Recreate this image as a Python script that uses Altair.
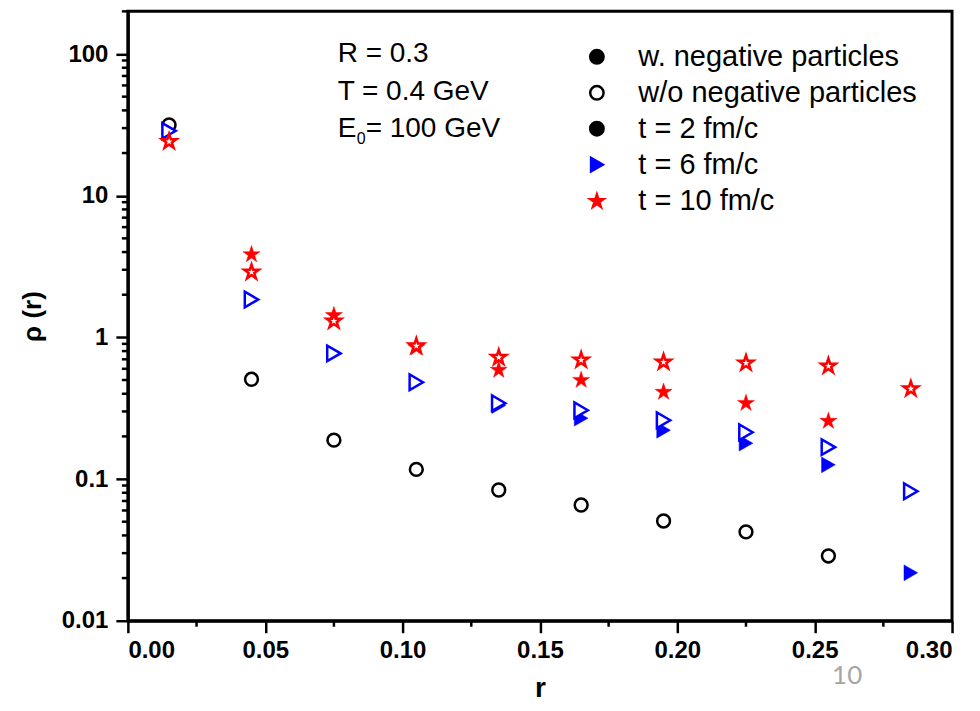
import altair as alt
import pandas as pd

# ---------------- data ----------------
r_vals = [0.015, 0.045, 0.075, 0.105, 0.135, 0.165, 0.195, 0.225, 0.255, 0.285]

t2_without = [31.6, 0.506, 0.188, 0.117, 0.0837, 0.0656, 0.0506, 0.0424, 0.0287, None]
t2_with = [31.6, 0.506, 0.188, 0.117, 0.0837, 0.0656, 0.0506, 0.0424, 0.0282, None]
t6_without = [28.7, 1.85, 0.77, 0.482, 0.343, 0.306, 0.260, 0.214, 0.168, 0.082]
t6_with = [28.7, 1.85, 0.77, 0.482, 0.330, 0.269, 0.221, 0.179, 0.126, 0.0218]
t10_without = [24.4, 2.92, 1.32, 0.88, 0.73, 0.70, 0.678, 0.667, 0.635, 0.438]
t10_with = [24.4, 3.90, 1.45, 0.86, 0.596, 0.506, 0.417, 0.348, 0.260, None]

x_ticks = [0.0, 0.05, 0.10, 0.15, 0.20, 0.25, 0.30]
x_minor = [0.025, 0.075, 0.125, 0.175, 0.225, 0.275]
y_ticks = [0.01, 0.1, 1, 10, 100]
y_minor = [m * d for d in [0.01, 0.1, 1, 10] for m in range(2, 10)] + [200]

legend_labels = ["w. negative particles", "w/o negative particles",
                 "t = 2 fm/c", "t = 6 fm/c", "t = 10 fm/c"]

annot_lines = ["R = 0.3", "T = 0.4 GeV"]

STAR = ("M0,-0.905L0.225,-0.213L0.951,-0.213L0.363,0.214L0.588,0.905"
        "L0,0.478L-0.588,0.905L-0.363,0.214L-0.951,-0.213L-0.225,-0.213Z")

FONT = "Liberation Sans"
W, H = 825, 610

xscale = alt.Scale(domain=[0, 0.3], nice=False, zero=False)
yscale = alt.Scale(type="log", domain=[0.01, 200], nice=False)

X = alt.X("r:Q", scale=xscale,
          axis=alt.Axis(values=x_ticks, format=".2f", title="r",
                        labelFont=FONT, labelFontSize=24, labelFontWeight="bold",
                        labelPadding=6, titleFont=FONT, titleFontSize=28,
                        titleFontWeight="bold", titlePadding=12))
Y = alt.Y("rho:Q", scale=yscale,
          axis=alt.Axis(values=y_ticks, format=".2~f", title="ρ (r)",
                        labelFont=FONT, labelFontSize=24, labelFontWeight="bold",
                        labelPadding=8, titleFont=FONT, titleFontSize=26,
                        titleFontWeight="bold", titlePadding=16))


def series_df(vals):
    return pd.DataFrame({"r": r_vals, "rho": vals}).dropna()


def filled_layer(vals, shape, color, size):
    return alt.Chart(series_df(vals)).mark_point(
        shape=shape, filled=True, fill=color, stroke=color, strokeWidth=0.5,
        size=size, opacity=1).encode(x=X, y=Y)


def open_layer(vals, shape, color, size):
    return alt.Chart(series_df(vals)).mark_point(
        shape=shape, filled=True, fill="white", stroke=color, strokeWidth=2.5,
        size=size, opacity=1).encode(x=X, y=Y)


# minor ticks
ymin_df = pd.DataFrame({"rho": y_minor})
ymin = alt.Chart(ymin_df).mark_rule(color="black", strokeWidth=2.5).encode(
    y=Y, x=alt.value(0), x2=alt.value(-6))
xmin_df = pd.DataFrame({"r": x_minor})
xmin = alt.Chart(xmin_df).mark_rule(color="black", strokeWidth=2.5).encode(
    x=X, y=alt.value(H), y2=alt.value(H + 6))

# legend (symbols only come from scales; no marks drawn)
leg_df = pd.DataFrame({"entry": legend_labels, "r": [None] * 5, "rho": [None] * 5})
leg = alt.Legend(orient="none", legendX=455, legendY=31, title=None,
                 labelFont=FONT, labelFontSize=29, labelColor="black",
                 symbolSize=180, symbolStrokeWidth=2.5, rowPadding=6,
                 labelOffset=27, padding=0, labelLimit=600)
legend_layer = alt.Chart(leg_df).mark_point(filled=True, strokeWidth=2.5, opacity=1).encode(
    x=X, y=Y,
    shape=alt.Shape("entry:N", scale=alt.Scale(domain=legend_labels,
                    range=["circle", "circle", "circle", "triangle-right", STAR]), legend=leg),
    stroke=alt.Stroke("entry:N", scale=alt.Scale(domain=legend_labels,
                      range=["black", "black", "black", "blue", "red"]), legend=leg),
    fill=alt.Fill("entry:N", scale=alt.Scale(domain=legend_labels,
                  range=["black", "white", "black", "blue", "red"]), legend=leg),
)

one = pd.DataFrame({"a": [0]})


def text_layer(txt, x, y, size=28, color="black", font=FONT, align="left"):
    return alt.Chart(one).mark_text(text=txt, font=font, fontSize=size, color=color,
                                    align=align, baseline="middle").encode(
        x=alt.value(x), y=alt.value(y))


annots = [
    text_layer(annot_lines[0], 210, 43),
    text_layer(annot_lines[1], 210, 81),
    text_layer("E", 210, 118),
    text_layer("0", 229, 128, size=16),
    text_layer("= 100 GeV", 238, 118),
    text_layer("10", 720, 665, size=26, color="#a6a6a6", font="Lato", align="center"),
]

chart = alt.layer(
    ymin, xmin,
    filled_layer(t2_with, "circle", "black", 165),
    filled_layer(t6_with, "triangle-right", "blue", 250),
    filled_layer(t10_with, STAR, "red", 320),
    open_layer(t2_without, "circle", "black", 165),
    open_layer(t6_without, "triangle-right", "blue", 240),
    open_layer(t10_without, STAR, "red", 235),
    legend_layer,
    *annots,
).properties(
    width=W, height=H,
    autosize=alt.AutoSizeParams(type="none"),
    padding={"left": 120, "top": 3, "right": 20, "bottom": 85},
).configure_view(
    stroke="black", strokeWidth=3
).configure_axis(
    domainColor="black", domainWidth=3, tickColor="black", tickWidth=2.5,
    tickSize=12, grid=False, labelColor="black", titleColor="black"
)

chart.save("out.html", embed_options={"renderer": "svg", "actions": False})
